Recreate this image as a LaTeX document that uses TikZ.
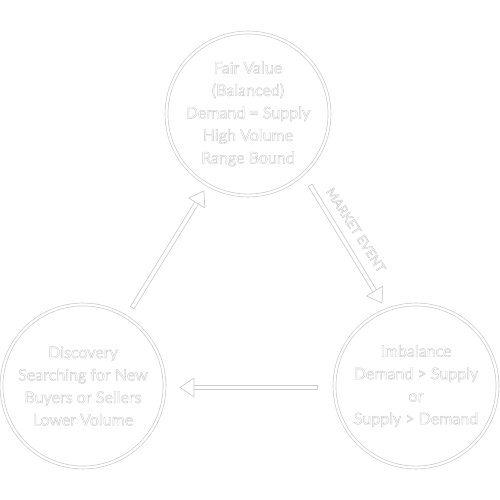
\documentclass[tikz,border=0pt]{standalone}
\usepackage{fontspec}
\setmainfont{Lato}
\usetikzlibrary{calc}
\definecolor{lg}{gray}{0.80}
\newcommand\outl[1]{{\color{white}\special{pdf:literal direct 0.8 G 0.4 w 2 Tr}#1\special{pdf:literal direct 0 Tr}}}
\tikzset{
  ring/.style={circle, draw=lg, line width=0.7pt, double=white, double distance=2.2pt,
    minimum size=163pt, inner sep=0pt, align=center,
    font=\fontsize{16}{22.5}\selectfont},
  shaftout/.style={draw=lg, line width=5pt},
  shaftin/.style={draw=white, line width=3.4pt},
  headsty/.style={draw=lg, fill=white, line width=0.7pt, line join=round},
  lbl/.style={font=\fontsize{13}{14}\selectfont, inner sep=0pt}
}
\newcommand\hollowarrow[2]{%
  \draw[shaftout, shorten >=12pt] (#1) -- (#2);
  \draw[shaftin, shorten >=11pt, shorten <=0.8pt] (#1) -- (#2);
  \coordinate (hb) at ($(#2)!14pt!(#1)$);
  \draw[headsty] ($(hb)!9.5pt!90:(#2)$) -- (#2) -- ($(hb)!9.5pt!-90:(#2)$) -- cycle;
}
\begin{document}
\begin{tikzpicture}[x=1pt,y=1pt]
\useasboundingbox (0,0) rectangle (500,500);
\node[ring] (fair) at (248,386) {\outl{Fair Value}\\\outl{(Balanced)}\\\outl{Demand = Supply}\\\outl{High Volume}\\\outl{Range Bound}};
\node[ring] (disc) at (83,114) {\outl{Discovery}\\\outl{Searching for New}\\\outl{Buyers or Sellers}\\\outl{Lower Volume}};
\node[ring] (imb) at (416,114) {\outl{Imbalance}\\\outl{Demand > Supply}\\\outl{or}\\\outl{Supply > Demand}};
\coordinate (a1s) at (132,192);
\coordinate (a1e) at (204,309);
\coordinate (a2s) at (310,315);
\coordinate (a2e) at (382,197);
\coordinate (a3s) at (318,112.5);
\coordinate (a3e) at (180,112.5);
\hollowarrow{a1s}{a1e}
\hollowarrow{a2s}{a2e}
\hollowarrow{a3s}{a3e}
\node[lbl, rotate=-57] (mkt) at (356,270) {\outl{MARKET EVENT}};
\end{tikzpicture}
\end{document}
